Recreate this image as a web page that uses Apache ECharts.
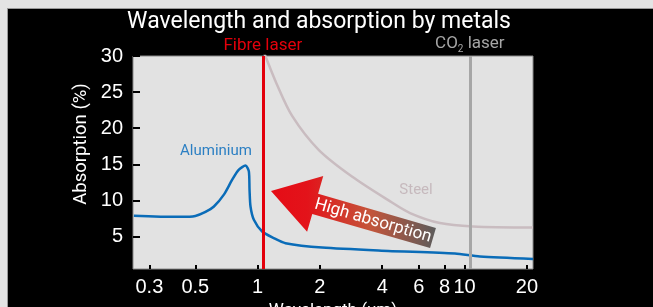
<!DOCTYPE html>
<html>
<head>
<meta charset="utf-8">
<script src="https://cdn.jsdelivr.net/npm/echarts@6/dist/echarts.min.js"></script>
<style>
  html, body { margin: 0; padding: 0; background: #e4e4e4; }
  #panel { position: absolute; left: 7px; top: 8px; width: 646px; height: 299px; background: #000; border-left: 1px solid #9a9a9a; border-top: 1px solid #9a9a9a; box-sizing: border-box; }
  #chart { position: absolute; left: 0; top: 0; width: 653px; height: 307px; }
</style>
</head>
<body>
<div id="panel"></div>
<div id="chart"></div>
<script>
// wavelength in um, absorption in %
var alWavelength = [0.2525, 0.34, 0.43, 0.5, 0.56, 0.615, 0.687, 0.755, 0.812, 0.874, 0.907, 0.914, 0.924, 0.959, 1.052, 1.197, 1.363, 2.05, 4.27, 8.98, 11.85, 21.4];
var alAbsorption = [7.87, 7.75, 7.72, 7.85, 8.4, 9.16, 10.8, 12.9, 14.26, 14.82, 14.03, 11.48, 9.16, 7.32, 5.69, 4.78, 4.08, 3.47, 3.01, 2.64, 2.22, 1.9];

var steelWavelength = [1.04, 1.09, 1.229, 1.468, 1.972, 2.856, 4.37, 5.45, 7.6, 10.96, 21.4];
var steelAbsorption = [31.5, 30, 26.3, 21.7, 17.0, 13.3, 9.86, 8.25, 6.86, 6.39, 6.25];

var laserWavelength = [1.06, 10.6];
var laserNames = ['Fibre laser', '{a|CO}{s|2}{a| laser}'];
var laserColors = ['#e3000b', '#a6a6a6'];

var xTicks = [0.3, 0.5, 1, 2, 4, 6, 8, 10, 20];
var yTicks = [5, 10, 15, 20, 25, 30];

function zip(xs, ys) {
    var out = [];
    for (var i = 0; i < xs.length; i++) {
        out.push([xs[i], ys[i]]);
    }
    return out;
}

// arrow "High absorption" (annotation, pixel space)
function arrowPoints(tip, tail, headLen, headHalf, shaftHalf) {
    var dx = tip[0] - tail[0], dy = tip[1] - tail[1];
    var len = Math.sqrt(dx * dx + dy * dy);
    var d = [dx / len, dy / len];
    var n = [-d[1], d[0]];
    var b = [tip[0] - d[0] * headLen, tip[1] - d[1] * headLen];
    function p(base, k) { return [base[0] + n[0] * k, base[1] + n[1] * k]; }
    return [tip, p(b, -headHalf), p(b, -shaftHalf), p(tail, -shaftHalf), p(tail, shaftHalf), p(b, shaftHalf), p(b, headHalf)];
}

var markData = [];
for (var i = 0; i < laserWavelength.length; i++) {
    markData.push({
        xAxis: laserWavelength[i],
        lineStyle: { color: laserColors[i], width: 3, type: 'solid' },
        label: {
            show: true,
            position: 'end',
            distance: 2,
            formatter: laserNames[i],
            color: laserColors[i],
            fontFamily: 'Roboto',
            fontSize: 17,
            rich: {
                a: { color: laserColors[i], fontFamily: 'Roboto', fontSize: 17, lineHeight: 20 },
                s: { color: laserColors[i], fontFamily: 'Roboto', fontSize: 10, lineHeight: 10, verticalAlign: 'bottom' }
            }
        }
    });
}

var option = {
    backgroundColor: 'transparent',
    animation: false,
    title: {
        text: 'Wavelength and absorption by metals',
        left: 314,
        top: 6,
        textAlign: 'center',
        textStyle: { color: '#fff', fontFamily: 'Roboto', fontSize: 23, fontWeight: 'normal' }
    },
    grid: {
        left: 133,
        right: 120,
        top: 56,
        bottom: 38,
        outerBoundsMode: 'none',
        containLabel: false,
        show: true,
        backgroundColor: '#e2e2e2',
        borderColor: '#8a8a8a',
        borderWidth: 1
    },
    xAxis: {
        type: 'log',
        min: 0.25,
        max: 21.4,
        name: 'Wavelength (um)',
        nameLocation: 'middle',
        nameGap: 25,
        nameTextStyle: { color: '#fff', fontFamily: 'Roboto', fontSize: 17 },
        axisLine: { show: false },
        splitLine: { show: false },
        minorTick: { show: false },
        axisTick: { show: true, inside: true, length: 4, customValues: xTicks, lineStyle: { color: '#000', width: 2 } },
        axisLabel: { customValues: xTicks, color: '#fff', fontFamily: 'Liberation Sans', fontSize: 20, margin: 8 }
    },
    yAxis: {
        type: 'value',
        min: 0.5,
        max: 30,
        axisLine: { show: false },
        splitLine: { show: false },
        axisTick: { show: true, inside: true, length: 7, customValues: yTicks, lineStyle: { color: '#000', width: 2 } },
        axisLabel: { customValues: yTicks, color: '#fff', fontFamily: 'Liberation Sans', fontSize: 20, margin: 10 }
    },
    series: [
        {
            name: 'Steel',
            type: 'line',
            smooth: 0.3,
            showSymbol: false,
            clip: true,
            lineStyle: { color: '#c9bcc0', width: 2.5 },
            data: zip(steelWavelength, steelAbsorption)
        },
        {
            name: 'Aluminium',
            type: 'line',
            smooth: 0.25,
            showSymbol: false,
            clip: true,
            lineStyle: { color: '#0a6cb8', width: 2.5 },
            data: zip(alWavelength, alAbsorption),
            markLine: {
                silent: true,
                symbol: 'none',
                z: 5,
                data: markData
            }
        }
    ],
    graphic: [
        {
            type: 'text', x: 81, y: 144, rotation: Math.PI / 2,
            style: { text: 'Absorption (%)', fill: '#fff', font: '18.5px Roboto', textAlign: 'center', textVerticalAlign: 'middle' }
        },
        {
            type: 'text', x: 216, y: 151,
            style: { text: 'Aluminium', fill: '#2b7fc3', font: '15px Roboto', textAlign: 'center', textVerticalAlign: 'middle' }
        },
        {
            type: 'text', x: 416, y: 190,
            style: { text: 'Steel', fill: '#c6b9bd', font: '15px Roboto', textAlign: 'center', textVerticalAlign: 'middle' }
        },
        {
            type: 'polygon',
            z: 10,
            shape: { points: arrowPoints([271, 191], [433, 238], 46, 29, 10.5) },
            style: {
                fill: new echarts.graphic.LinearGradient(0, 0, 1, 0, [
                    { offset: 0, color: '#e50c16' },
                    { offset: 0.22, color: '#e3131a' },
                    { offset: 0.6, color: '#c4553a' },
                    { offset: 1, color: '#5c5c5c' }
                ])
            }
        },
        {
            type: 'text', x: 373, y: 221, z: 11, rotation: -16.2 * Math.PI / 180,
            style: { text: 'High absorption', fill: '#fff', font: '17px Roboto', textAlign: 'center', textVerticalAlign: 'middle' }
        }
    ]
};

var myChart = echarts.init(document.getElementById('chart'));
myChart.setOption(option);
</script>
</body>
</html>
